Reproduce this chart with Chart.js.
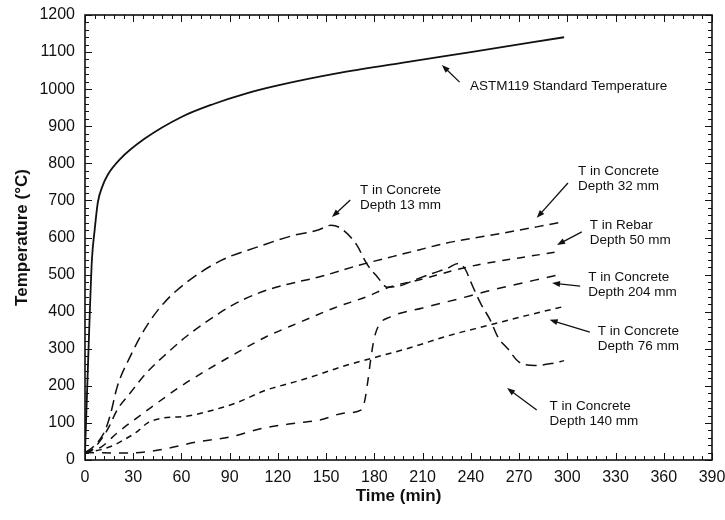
<!DOCTYPE html>
<html>
<head>
<meta charset="utf-8">
<script src="https://cdn.jsdelivr.net/npm/chart.js@4.4.1/dist/chart.umd.min.js"></script>
<style>
  body { margin: 0; background: #fff; }
  canvas { display: block; }
</style>
</head>
<body>
<canvas id="fireChart" width="725" height="520"></canvas>
<script>
// time in minutes, temperature in degrees C
var astmTime = [0, 1.5, 3, 4.3, 6, 8, 11, 14, 22, 37, 60, 80, 100, 120, 160, 200, 240, 298];
var astmTemp = [20, 210, 400, 540, 620, 695, 740, 768, 812, 866, 925, 960, 988, 1010, 1045, 1073, 1100, 1140];

var d13Time = [0, 5, 10, 13, 16, 20, 28, 38, 49, 65, 85, 107, 130, 145, 153, 159, 169, 175, 182, 188, 196, 206, 216, 226, 232, 236, 241, 246, 252, 257, 263, 270, 280, 290, 298];
var d13Temp = [20, 35, 60, 85, 126, 197, 278, 359, 423, 485, 539, 574, 606, 620, 633, 625, 580, 531, 493, 466, 470, 487, 503, 518, 530, 518, 470, 423, 378, 330, 300, 264, 255, 260, 268];

var d32Time = [0, 5, 10, 15, 20, 28, 38, 51, 63, 80, 94, 113, 132, 146, 171, 200, 225, 260, 295];
var d32Temp = [20, 30, 55, 90, 135, 180, 234, 288, 333, 386, 423, 458, 480, 494, 526, 558, 585, 612, 640];

var d50Time = [0, 10, 20, 39, 59, 76, 94, 113, 134, 155, 175, 190, 210, 230, 244, 270, 295];
var d50Temp = [20, 35, 73, 135, 197, 243, 288, 333, 372, 410, 440, 467, 488, 512, 526, 545, 562];

var d76Time = [0, 10, 18, 24, 32, 39, 48, 63, 80, 94, 113, 130, 145, 160, 179, 200, 230, 250, 275, 297];
var d76Temp = [20, 28, 40, 54, 75, 100, 113, 118, 135, 154, 189, 210, 230, 252, 275, 300, 340, 362, 390, 413];

var d204Time = [0, 25, 38, 50, 70, 90, 111, 132, 146, 162, 172, 174, 176, 178, 180, 183, 190, 210, 231, 250, 294];
var d204Temp = [20, 19, 22, 30, 49, 62, 86, 100, 108, 127, 135, 160, 215, 280, 330, 365, 386, 410, 433, 455, 499];

var noteText = [
  ['ASTM119 Standard Temperature'],
  ['T in Concrete', 'Depth 13 mm'],
  ['T in Concrete', 'Depth 32 mm'],
  ['T in Rebar', 'Depth 50 mm'],
  ['T in Concrete', 'Depth 204 mm'],
  ['T in Concrete', 'Depth 76 mm'],
  ['T in Concrete', 'Depth 140 mm']
];
var noteAt = [[239.5, 1007], [171, 728], [306.6, 779], [314, 634], [313, 493], [319, 348], [289, 146]];
var arrowFrom = [[233, 1019], [165, 701], [300.4, 747], [309, 615], [308, 469], [314, 345], [281, 135]];
var arrowTo = [[222, 1065], [153.6, 655], [281, 653], [293.6, 580], [290.5, 477], [289, 378], [262.5, 194]];

function pts(ts, vs) {
  return ts.map(function (t, i) { return { x: t, y: vs[i] }; });
}

function series(label, ts, vs, dash) {
  return {
    label: label,
    data: pts(ts, vs),
    borderColor: '#111',
    borderWidth: dash ? 1.5 : 1.8,
    borderDash: dash || [],
    pointRadius: 0,
    fill: false,
    cubicInterpolationMode: 'monotone'
  };
}

// inward tick marks on all four sides, frame, and the text notes with arrows
var frameTicks = {
  id: 'frameTicks',
  afterDraw: function (chart) {
    var ctx = chart.ctx;
    var a = chart.chartArea;
    var x = chart.scales.x;
    var y = chart.scales.y;
    ctx.save();
    ctx.strokeStyle = '#111';
    ctx.lineWidth = 1.6;
    ctx.strokeRect(a.left, a.top, a.right - a.left, a.bottom - a.top);
    ctx.lineWidth = 1;
    ctx.beginPath();
    for (var v = 0; v <= 390; v += 6) {
      var px = Math.round(x.getPixelForValue(v)) + 0.5;
      var len = v % 30 === 0 ? 7 : 4;
      ctx.moveTo(px, a.bottom); ctx.lineTo(px, a.bottom - len);
      ctx.moveTo(px, a.top); ctx.lineTo(px, a.top + len);
    }
    for (var w = 0; w <= 1200; w += 20) {
      var py = Math.round(y.getPixelForValue(w)) + 0.5;
      var l2 = w % 100 === 0 ? 7 : 4;
      ctx.moveTo(a.left, py); ctx.lineTo(a.left + l2, py);
      ctx.moveTo(a.right, py); ctx.lineTo(a.right - l2, py);
    }
    ctx.stroke();

    ctx.fillStyle = '#111';
    ctx.font = '13.5px "Liberation Sans", Arial, sans-serif';
    ctx.textBaseline = 'middle';
    ctx.textAlign = 'left';
    for (var i = 0; i < noteText.length; i++) {
      var tx = x.getPixelForValue(noteAt[i][0]);
      var ty = y.getPixelForValue(noteAt[i][1]);
      for (var k = 0; k < noteText[i].length; k++) {
        ctx.fillText(noteText[i][k], tx, ty + k * 15.5);
      }
      var x1 = x.getPixelForValue(arrowFrom[i][0]);
      var y1 = y.getPixelForValue(arrowFrom[i][1]);
      var x2 = x.getPixelForValue(arrowTo[i][0]);
      var y2 = y.getPixelForValue(arrowTo[i][1]);
      var ang = Math.atan2(y2 - y1, x2 - x1);
      ctx.lineWidth = 1.3;
      ctx.beginPath();
      ctx.moveTo(x1, y1);
      ctx.lineTo(x2 - 5 * Math.cos(ang), y2 - 5 * Math.sin(ang));
      ctx.stroke();
      ctx.beginPath();
      ctx.moveTo(x2, y2);
      ctx.lineTo(x2 - 8 * Math.cos(ang) + 3 * Math.sin(ang), y2 - 8 * Math.sin(ang) - 3 * Math.cos(ang));
      ctx.lineTo(x2 - 8 * Math.cos(ang) - 3 * Math.sin(ang), y2 - 8 * Math.sin(ang) + 3 * Math.cos(ang));
      ctx.closePath();
      ctx.fill();
    }
    ctx.restore();
  }
};

var tickFont = { family: '"Liberation Sans", Arial, sans-serif', size: 16 };
var titleFont = { family: '"Liberation Sans", Arial, sans-serif', size: 17, weight: 'bold' };

new Chart(document.getElementById('fireChart').getContext('2d'), {
  type: 'line',
  data: {
    datasets: [
      series('ASTM119 Standard Temperature', astmTime, astmTemp, null),
      series('T in Concrete Depth 13 mm', d13Time, d13Temp, [11, 6]),
      series('T in Concrete Depth 32 mm', d32Time, d32Temp, [9, 6]),
      series('T in Rebar Depth 50 mm', d50Time, d50Temp, [8, 7]),
      series('T in Concrete Depth 76 mm', d76Time, d76Temp, [6, 5]),
      series('T in Concrete Depth 204 mm', d204Time, d204Temp, [9, 8])
    ]
  },
  options: {
    responsive: false,
    animation: false,
    layout: { padding: { top: 15, right: 13, left: 0, bottom: 0 } },
    plugins: {
      legend: { display: false },
      tooltip: { enabled: false }
    },
    scales: {
      x: {
        type: 'linear',
        min: 0,
        max: 390,
        grid: { display: false, drawTicks: false },
        border: { display: false },
        ticks: { stepSize: 30, padding: 8, color: '#111', font: tickFont, maxRotation: 0, callback: function (v) { return String(v); } },
        title: { display: true, text: 'Time (min)', color: '#111', font: titleFont, padding: { top: 0, bottom: 13 } },
        afterFit: function (s) { s.height = 60; s.paddingLeft = 0; s.paddingRight = 0; }
      },
      y: {
        min: 0,
        max: 1200,
        grid: { display: false, drawTicks: false },
        border: { display: false },
        ticks: { stepSize: 100, padding: 10, color: '#111', font: tickFont, callback: function (v) { return String(v); } },
        title: { display: true, text: 'Temperature (°C)', color: '#111', font: titleFont, padding: { top: 12, bottom: 0 } },
        afterFit: function (s) { s.width = 85; s.paddingTop = 0; s.paddingBottom = 0; }
      }
    }
  },
  plugins: [frameTicks]
});
</script>
</body>
</html>
